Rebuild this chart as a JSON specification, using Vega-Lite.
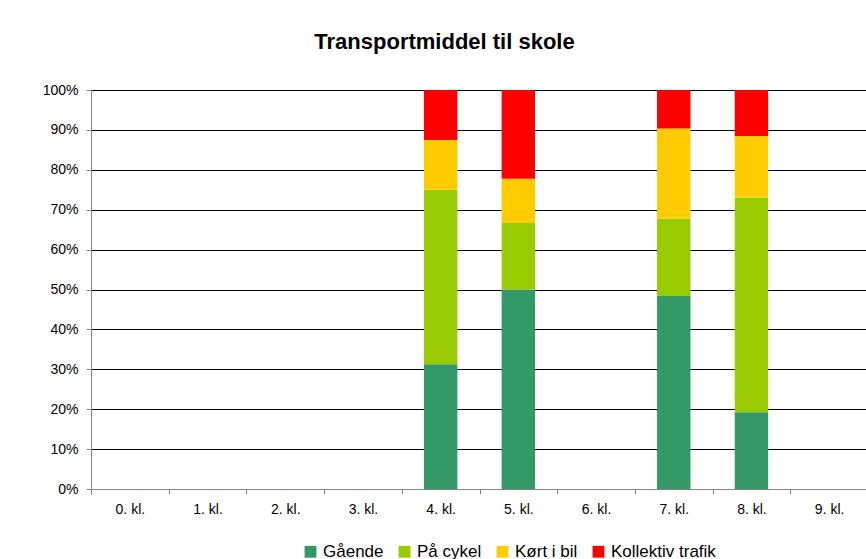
{
  "$schema": "https://vega.github.io/schema/vega-lite/v6.json",
  "width": 777,
  "height": 399,
  "autosize": {"type": "none"},
  "padding": {"left": 91, "top": 90, "right": 0, "bottom": 70},
  "background": "#ffffff",
  "title": {
    "text": "Transportmiddel til skole",
    "font": "Liberation Sans",
    "fontSize": 22,
    "fontWeight": "bold",
    "color": "#000000",
    "anchor": "middle",
    "dx": -35,
    "offset": 29
  },
  "data": {
    "values": [
      {"klasse": "4. kl.", "transport": "Gående", "nr": 1, "antal": 5},
      {"klasse": "4. kl.", "transport": "På cykel", "nr": 2, "antal": 7},
      {"klasse": "4. kl.", "transport": "Kørt i bil", "nr": 3, "antal": 2},
      {"klasse": "4. kl.", "transport": "Kollektiv trafik", "nr": 4, "antal": 2},
      {"klasse": "5. kl.", "transport": "Gående", "nr": 1, "antal": 9},
      {"klasse": "5. kl.", "transport": "På cykel", "nr": 2, "antal": 3},
      {"klasse": "5. kl.", "transport": "Kørt i bil", "nr": 3, "antal": 2},
      {"klasse": "5. kl.", "transport": "Kollektiv trafik", "nr": 4, "antal": 4},
      {"klasse": "7. kl.", "transport": "Gående", "nr": 1, "antal": 15},
      {"klasse": "7. kl.", "transport": "På cykel", "nr": 2, "antal": 6},
      {"klasse": "7. kl.", "transport": "Kørt i bil", "nr": 3, "antal": 7},
      {"klasse": "7. kl.", "transport": "Kollektiv trafik", "nr": 4, "antal": 3},
      {"klasse": "8. kl.", "transport": "Gående", "nr": 1, "antal": 5},
      {"klasse": "8. kl.", "transport": "På cykel", "nr": 2, "antal": 14},
      {"klasse": "8. kl.", "transport": "Kørt i bil", "nr": 3, "antal": 4},
      {"klasse": "8. kl.", "transport": "Kollektiv trafik", "nr": 4, "antal": 3}
    ]
  },
  "mark": {"type": "bar", "width": {"band": 0.43}},
  "encoding": {
    "x": {
      "field": "klasse",
      "type": "nominal",
      "scale": {
        "domain": ["0. kl.", "1. kl.", "2. kl.", "3. kl.", "4. kl.", "5. kl.", "6. kl.", "7. kl.", "8. kl.", "9. kl."],
        "paddingInner": 0,
        "paddingOuter": 0
      },
      "axis": {
        "title": null,
        "labelAngle": 0,
        "tickBand": "extent",
        "domainColor": "#868686",
        "tickColor": "#868686",
        "tickSize": 5,
        "labelPadding": 8,
        "labelFont": "Liberation Sans",
        "labelFontSize": 14,
        "labelColor": "#000000",
        "grid": false
      }
    },
    "y": {
      "field": "antal",
      "type": "quantitative",
      "stack": "normalize",
      "scale": {"domain": [0, 1]},
      "axis": {
        "title": null,
        "format": ".0%",
        "values": [0, 0.1, 0.2, 0.3, 0.4, 0.5, 0.6, 0.7, 0.8, 0.9, 1],
        "grid": true,
        "gridColor": "#000000",
        "gridWidth": 1,
        "domainColor": "#868686",
        "tickColor": "#868686",
        "tickSize": 5,
        "labelPadding": 8,
        "labelFont": "Liberation Sans",
        "labelFontSize": 14,
        "labelColor": "#000000"
      }
    },
    "color": {
      "field": "transport",
      "type": "nominal",
      "sort": ["Gående", "På cykel", "Kørt i bil", "Kollektiv trafik"],
      "scale": {
        "domain": ["Gående", "På cykel", "Kørt i bil", "Kollektiv trafik"],
        "range": ["#339966", "#99cc00", "#ffcc00", "#ff0000"]
      },
      "legend": {
        "title": null,
        "orient": "none",
        "direction": "horizontal",
        "legendX": 211,
        "legendY": 453,
        "symbolType": "square",
        "symbolSize": 140,
        "symbolStrokeWidth": 0,
        "labelFont": "Liberation Sans",
        "labelFontSize": 17,
        "labelColor": "#000000",
        "columnPadding": 12,
        "labelOffset": 4
      }
    },
    "order": {"field": "nr", "type": "quantitative", "sort": "ascending"}
  },
  "config": {"view": {"stroke": null}}
}
